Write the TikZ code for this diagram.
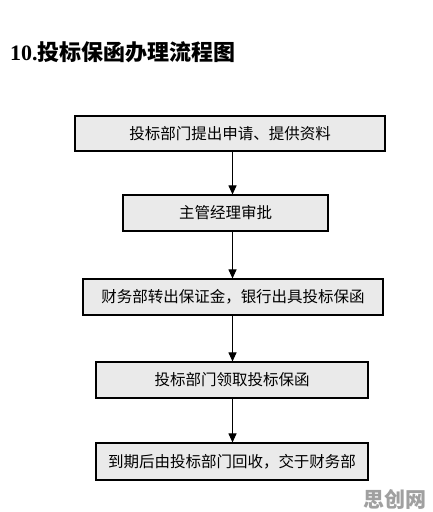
\documentclass[tikz,border=0pt]{standalone}
\usepackage{fontspec}
\setmainfont{Liberation Serif}
\newfontfamily\cjk{Noto Sans CJK SC}
\usetikzlibrary{arrows.meta}
\definecolor{boxfill}{RGB}{234,234,234}
\definecolor{wmgray}{RGB}{160,160,160}
\begin{document}
\begin{tikzpicture}[x=1pt,y=-1pt,
  stepbox/.style={draw=black,line width=1.1pt,fill=boxfill,inner sep=0pt,
    font=\cjk\fontsize{15.5}{18}\selectfont},
  flowarrow/.style={line width=1pt,-{Triangle[length=9pt,width=8pt]}}]
\useasboundingbox (0,0) rectangle (432,512);
\fill[white] (0,0) rectangle (432,512);
\node[anchor=west,inner sep=0pt] (title) at (10,52)
  {\fontsize{22}{25}\selectfont\bfseries 10.{\cjk\bfseries 投标保函办理流程图}};
\node[stepbox,minimum width=310pt,minimum height=35pt] (b1) at (230,133.5) {投标部门提出申请、提供资料};
\node[stepbox,minimum width=205pt,minimum height=36pt] (b2) at (225.5,213) {主管经理审批};
\node[stepbox,minimum width=300pt,minimum height=36pt] (b3) at (233,297) {财务部转出保证金，银行出具投标保函};
\node[stepbox,minimum width=272pt,minimum height=36pt] (b4) at (232,380) {投标部门领取投标保函};
\node[stepbox,minimum width=272pt,minimum height=37pt] (b5) at (232,461.5) {到期后由投标部门回收，交于财务部};
\coordinate (ax) at (232.5,0);
\draw[flowarrow] (b1.south -| ax) -- (b2.north -| ax);
\draw[flowarrow] (b2.south -| ax) -- (b3.north -| ax);
\draw[flowarrow] (b3.south -| ax) -- (b4.north -| ax);
\draw[flowarrow] (b4.south -| ax) -- (b5.north -| ax);
\node[anchor=east,inner sep=0pt,text=wmgray,font=\cjk\bfseries\fontsize{21}{23}\selectfont] (wm) at (427,499) {思创网};
\end{tikzpicture}
\end{document}
